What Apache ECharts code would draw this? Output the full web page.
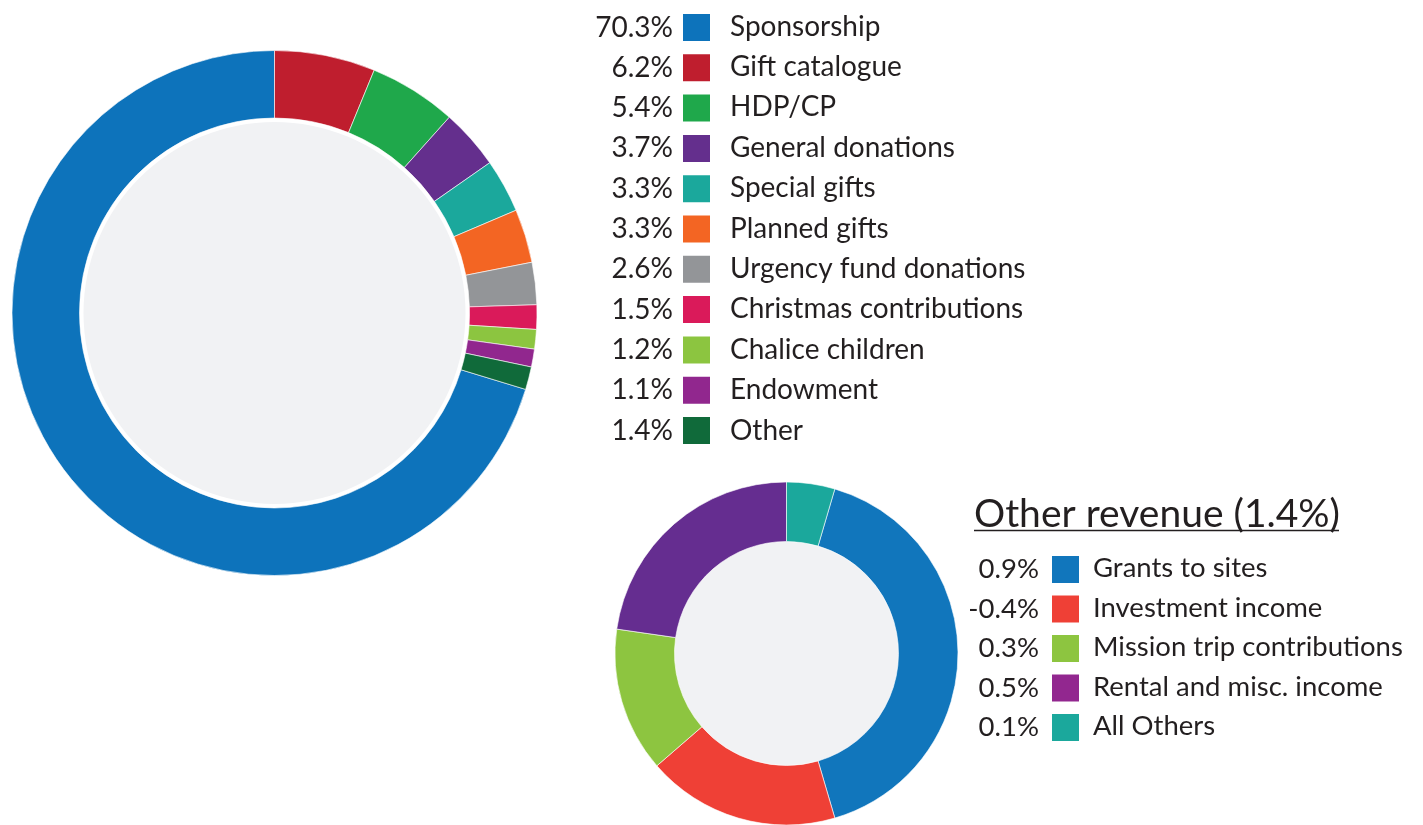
<!DOCTYPE html>
<html>
<head>
<meta charset="utf-8">
<script src="https://cdn.jsdelivr.net/npm/echarts@6/dist/echarts.min.js"></script>
<style>
  html, body { margin: 0; padding: 0; background: #ffffff; }
  #chart { width: 1423px; height: 825px; }
</style>
</head>
<body>
<div id="chart"></div>
<script>
// ---- Main revenue breakdown ----
const mainCategories = ['Sponsorship', 'Gift catalogue', 'HDP/CP', 'General donations', 'Special gifts',
  'Planned gifts', 'Urgency fund donations', 'Christmas contributions', 'Chalice children', 'Endowment', 'Other'];
const mainValues = [70.3, 6.2, 5.4, 3.7, 3.3, 3.3, 2.6, 1.5, 1.2, 1.1, 1.4];
const mainColors = ['#0d73bb', '#bf1e2e', '#1fa84b', '#642f8d', '#1ba89c', '#f36523', '#939598',
  '#da1a5a', '#8cc540', '#91278e', '#106a3a'];

// ---- Other revenue breakdown ----
const otherTitle = 'Other revenue (1.4%)';
const otherCategories = ['Grants to sites', 'Investment income', 'Mission trip contributions', 'Rental and misc. income', 'All Others'];
const otherValues = [0.9, -0.4, 0.3, 0.5, 0.1];
const otherSliceColors = ['#1176bc', '#ef4036', '#8dc540', '#652d90', '#1ba89c'];
const otherLegendColors = ['#1176bc', '#ef4036', '#8dc540', '#92278f', '#1ba89c'];

const FONT = 'Lato';
const TEXT = '#231f20';

const mainTotal = mainValues.reduce((a, b) => a + b, 0);
const otherTotal = otherValues.reduce((a, b) => a + Math.abs(b), 0);
const fmtPct = v => v.toFixed(1) + '%';

const mainPctMap = {};
mainCategories.forEach((c, i) => mainPctMap[c] = fmtPct(mainValues[i]));
const otherPctMap = {};
otherCategories.forEach((c, i) => otherPctMap[c] = fmtPct(otherValues[i]));

const chart = echarts.init(document.getElementById('chart'), null, { renderer: 'canvas' });

function legendBase(extra) {
  return Object.assign({
    orient: 'vertical',
    icon: 'rect',
    itemWidth: 29,
    itemHeight: 29,
    padding: 0,
    selectedMode: false,
    inactiveColor: '#ccc'
  }, extra);
}

const option = {
  animation: false,
  backgroundColor: '#ffffff',
  legend: [
    // main: names
    legendBase({
      left: 683, top: 12, itemGap: 11.4,
      data: mainCategories.map(c => ({ name: c })),
      itemStyle: { color: 'rgba(0,0,0,0)', borderWidth: 0 },
      textStyle: { fontFamily: FONT, fontSize: 28, color: TEXT, lineHeight: 29, padding: [0, 0, 0, 13] }
    }),
    // main: percentages + icons
    legendBase({
      right: 1423 - 712, top: 12, itemGap: 9.3, align: 'right',
      data: mainCategories.map((c, i) => ({ name: c, itemStyle: { color: mainColors[i] } })),
      formatter: n => mainPctMap[n],
      textStyle: { fontFamily: FONT, fontSize: 28, color: TEXT, lineHeight: 29, padding: [0, 4, 0, 0] }
    }),
    // other: names
    legendBase({
      left: 1052, top: 554, itemGap: 10.5,
      data: otherCategories.map(c => ({ name: c })),
      itemStyle: { color: 'rgba(0,0,0,0)', borderWidth: 0 },
      textStyle: { fontFamily: FONT, fontSize: 27.5, color: TEXT, lineHeight: 29, padding: [0, 0, 0, 7] }
    }),
    // other: percentages + icons
    legendBase({
      right: 1423 - 1081, top: 554, itemGap: 8.5, align: 'right',
      data: otherCategories.map((c, i) => ({ name: c, itemStyle: { color: otherLegendColors[i] } })),
      formatter: n => otherPctMap[n],
      textStyle: { fontFamily: FONT, fontSize: 27.5, color: TEXT, lineHeight: 29, padding: [0, 7, 0, 0] }
    })
  ],
  graphic: [
    {
      type: 'text', left: 974, top: 495, silent: true,
      style: { text: otherTitle, fontFamily: FONT, fontSize: 39, fill: TEXT }
    },
    {
      type: 'line', silent: true,
      shape: { x1: 974, y1: 530.5, x2: 1339, y2: 530.5 },
      style: { stroke: TEXT, lineWidth: 1.5 }
    }
  ],
  series: [
    {
      type: 'pie', name: 'mainInner', silent: true,
      center: [274.5, 313], radius: [0, 191],
      label: { show: false }, labelLine: { show: false },
      itemStyle: { color: '#f1f2f4' },
      data: [{ name: '__inner1', value: 1 }]
    },
    {
      type: 'pie', name: 'Revenue',
      center: [274.5, 313], radius: [195, 262.5],
      startAngle: 90 + (mainValues[0] / mainTotal) * 360,
      clockwise: true,
      label: { show: false }, labelLine: { show: false },
      emphasis: { disabled: true },
      itemStyle: { borderColor: '#ffffff', borderWidth: 0.6 },
      data: mainCategories.map((c, i) => ({ name: c, value: mainValues[i], itemStyle: { color: mainColors[i] } }))
    },
    {
      type: 'pie', name: 'otherInner', silent: true,
      center: [786.5, 653.5], radius: [0, 112],
      label: { show: false }, labelLine: { show: false },
      itemStyle: { color: '#f1f2f4' },
      data: [{ name: '__inner2', value: 1 }]
    },
    {
      type: 'pie', name: 'Other revenue',
      center: [786.5, 653.5], radius: [112, 171.5],
      startAngle: 90 - (Math.abs(otherValues[otherValues.length - 1]) / otherTotal) * 360,
      clockwise: true,
      label: { show: false }, labelLine: { show: false },
      emphasis: { disabled: true },
      itemStyle: { borderColor: '#ffffff', borderWidth: 0.6 },
      data: otherCategories.map((c, i) => ({ name: c, value: Math.abs(otherValues[i]), itemStyle: { color: otherSliceColors[i] } }))
    }
  ]
};

chart.setOption(option);
</script>
</body>
</html>
